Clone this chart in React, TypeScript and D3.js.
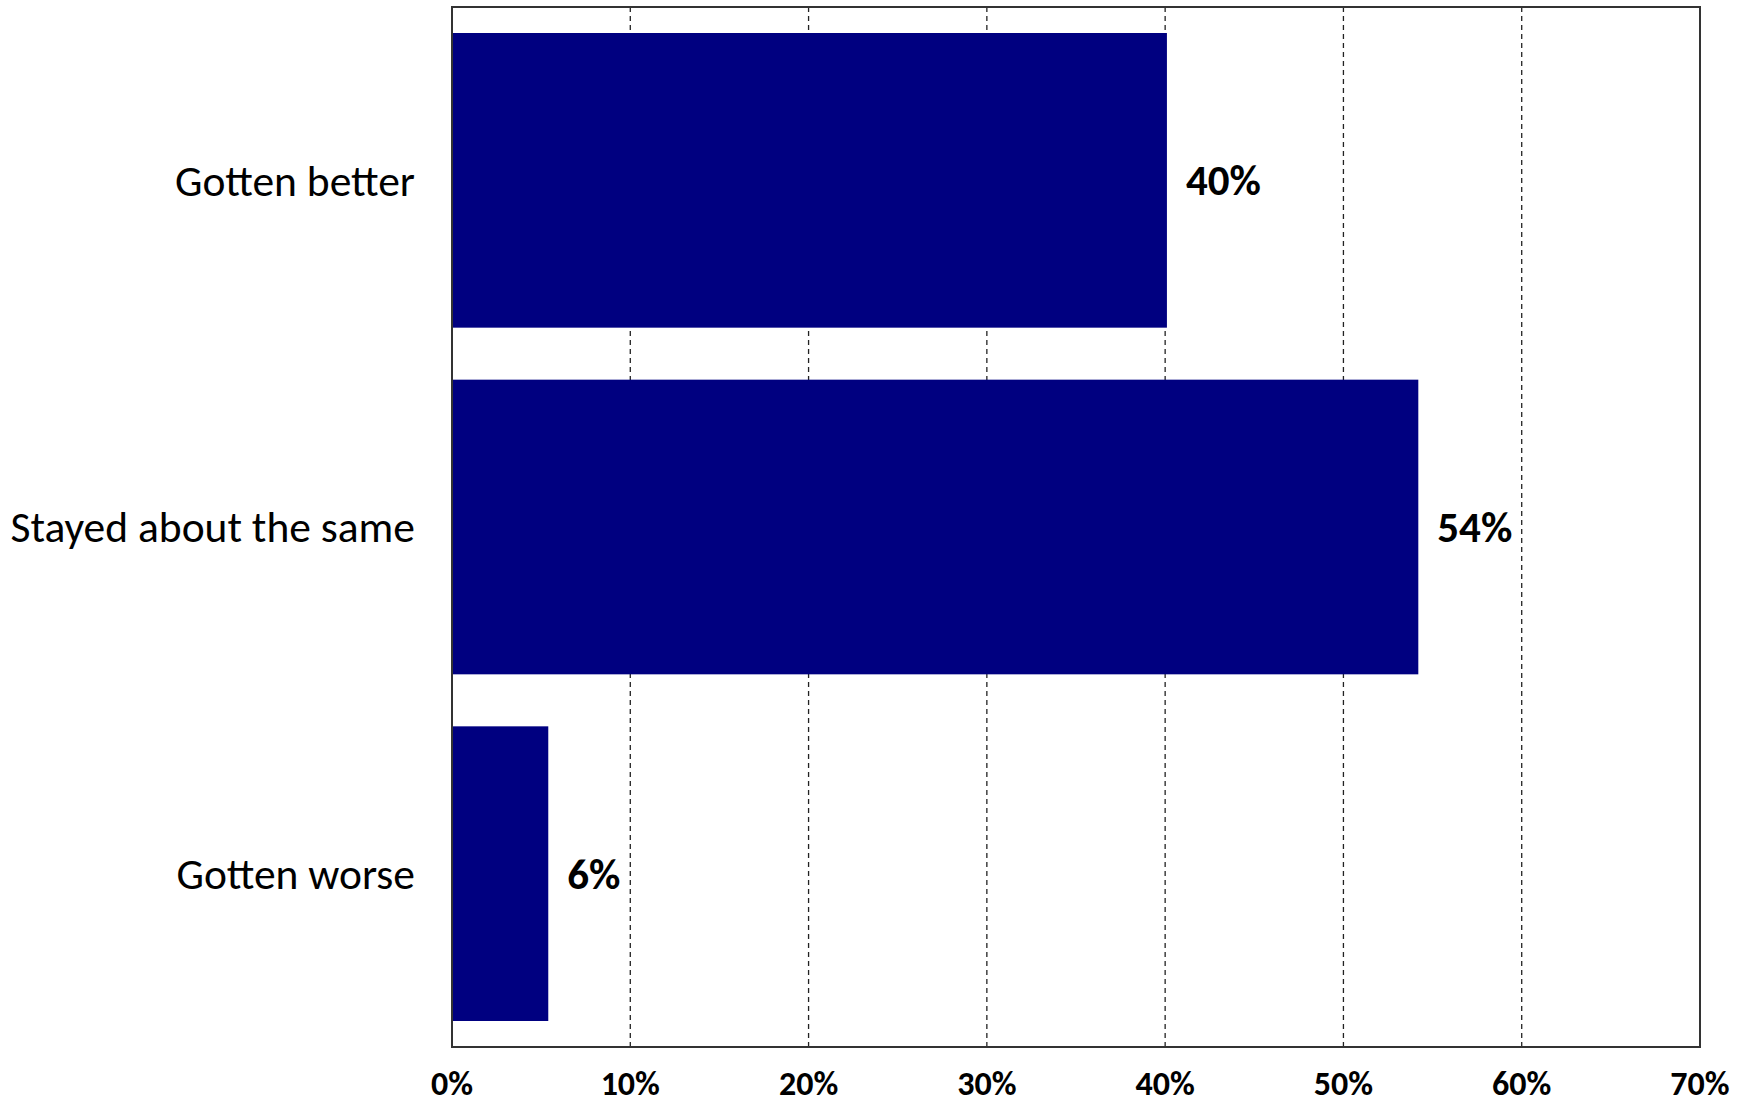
import React from "react";
import * as d3 from "d3";

const categories = ["Gotten better", "Stayed about the same", "Gotten worse"];
const values = [40.1, 54.2, 5.4];
const valueLabels = ["40%", "54%", "6%"];
const xTicks = [0, 10, 20, 30, 40, 50, 60, 70];

const W = 1747;
const H = 1105;
const M = { left: 452, right: 1700, top: 7, bottom: 1047 };
const FONT = "Carlito, Calibri, Lato, 'Open Sans', sans-serif";

export default function App() {
  const x = d3.scaleLinear().domain([0, 70]).range([M.left, M.right]);
  const y = d3
    .scaleBand<string>()
    .domain(categories)
    .range([M.top, M.bottom])
    .paddingInner(0.15)
    .paddingOuter(0.075);

  return (
    <svg
      width={W}
      height={H}
      style={{ position: "absolute", left: 0, top: 0, background: "#fff" }}
    >
      <rect x={0} y={0} width={W} height={H} fill="#fff" />
      {/* gridlines */}
      {xTicks.slice(1, -1).map((t) => (
        <line
          key={t}
          x1={x(t)}
          x2={x(t)}
          y1={M.top}
          y2={M.bottom}
          stroke="#222"
          strokeWidth={1.3}
          strokeDasharray="5,4"
        />
      ))}
      {/* bars */}
      {categories.map((c, i) => (
        <rect
          key={c}
          x={x(0)}
          y={y(c)}
          width={x(values[i]) - x(0)}
          height={y.bandwidth()}
          fill="#000080"
        />
      ))}
      {/* plot border */}
      <rect
        x={M.left}
        y={M.top}
        width={M.right - M.left}
        height={M.bottom - M.top}
        fill="none"
        stroke="#333"
        strokeWidth={2}
      />
      {/* category labels */}
      {categories.map((c) => (
        <text
          key={c}
          x={M.left - 37}
          y={(y(c) as number) + y.bandwidth() / 2}
          dy="0.35em"
          textAnchor="end"
          fontFamily={FONT}
          fontSize={43.5}
          fill="#000"
        >
          {c}
        </text>
      ))}
      {/* value labels */}
      {categories.map((c, i) => (
        <text
          key={c + "v"}
          x={x(values[i]) + 19}
          y={(y(c) as number) + y.bandwidth() / 2}
          dy="0.35em"
          fontFamily={FONT}
          fontWeight="bold"
          fontSize={43}
          fill="#000"
        >
          {valueLabels[i]}
        </text>
      ))}
      {/* x tick labels */}
      {xTicks.map((t) => (
        <text
          key={"t" + t}
          x={x(t)}
          y={1095}
          textAnchor="middle"
          fontFamily={FONT}
          fontWeight="bold"
          fontSize={34}
          fill="#000"
        >
          {t + "%"}
        </text>
      ))}
    </svg>
  );
}
